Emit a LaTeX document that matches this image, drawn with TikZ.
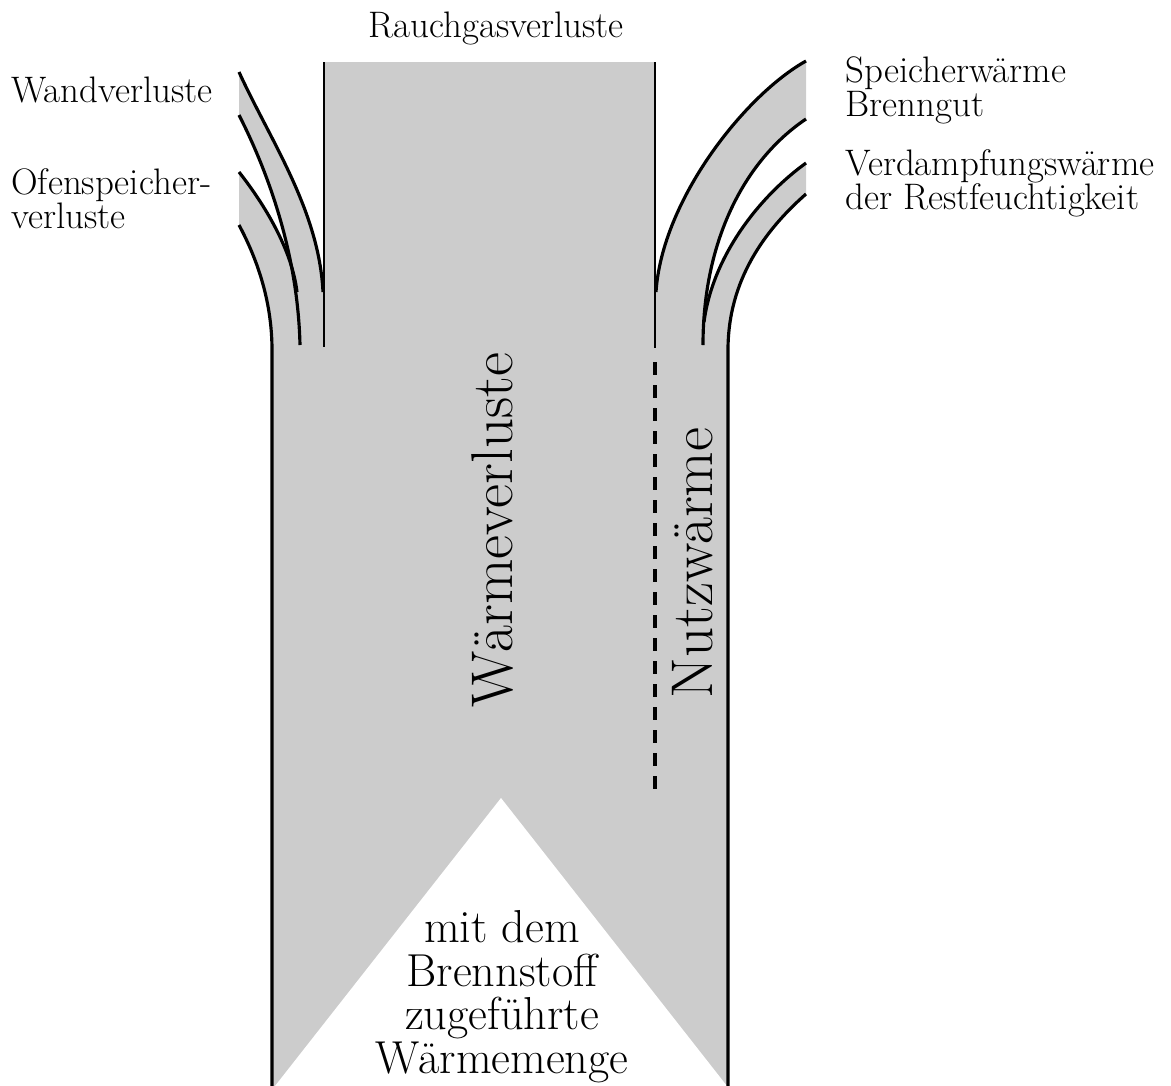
\documentclass[tikz,border=0pt]{standalone}
\definecolor{band}{gray}{0.80}
\newcommand\lblfont{\fontsize{21pt}{19pt}\selectfont\lineskiplimit=-20pt\relax}
\newcommand\midfont{\fontsize{26.3pt}{24.75pt}\selectfont\lineskiplimit=-20pt\relax}
\tikzset{
  edge/.style={line width=1.8pt, line cap=butt},
  chim/.style={line width=1.5pt},
  dashline/.style={line width=1.8pt, dash pattern=on 7.4pt off 5.7pt},
  lbl/.style={inner sep=0pt, font=\lblfont},
  big/.style={inner sep=0pt, font=\fontsize{33.5pt}{36pt}\selectfont},
  mid/.style={inner sep=0pt, font=\midfont}
}
\begin{document}
\begin{tikzpicture}[x=0.02cm,y=-0.02cm,line join=round]
\useasboundingbox (0,0) rectangle (1171,1086);
% gray fills
\fill[band] (272,340) rectangle (728,1086);
\fill[band] (324,62) rectangle (655,350);
\fill[band] (239,72) .. controls (270,140) and (319,210) .. (323,290) -- (324,350) -- (300,350) -- (300,345) .. controls (298,260) and (272,180) .. (239,115) -- cycle;
\fill[band] (239,172) .. controls (265,205) and (292,250) .. (297,292) -- (300,350) -- (272,350) .. controls (272,310) and (262,268) .. (239,225) -- cycle;
\fill[band] (806,61) .. controls (745,95) and (662,200) .. (656,290) -- (655,350) -- (703,350) -- (703,345) .. controls (703,240) and (745,160) .. (806,119) -- cycle;
\fill[band] (806,163) .. controls (755,200) and (712,260) .. (704,322) -- (703,350) -- (728,350) .. controls (728,280) and (765,230) .. (806,194) -- cycle;
% white triangle
\fill[white] (275,1086) -- (501,798) -- (727,1086) -- cycle;
% left lines
\draw[chim] (324,62) -- (324,347);
\draw[edge] (239,72) .. controls (270,140) and (319,210) .. (323,292);
\draw[edge] (239,115) .. controls (272,180) and (298,260) .. (300,345);
\draw[edge] (239,172) .. controls (265,205) and (292,250) .. (297,292);
\draw[edge] (239,225) .. controls (262,268) and (272,310) .. (272,350) -- (272,1086);
% right lines
\draw[chim] (655,62) -- (655,348);
\draw[edge] (806,61) .. controls (745,95) and (662,200) .. (656,292);
\draw[edge] (806,119) .. controls (745,160) and (703,240) .. (703,345);
\draw[edge] (806,163) .. controls (755,200) and (712,260) .. (704,322);
\draw[edge] (806,194) .. controls (765,230) and (728,280) .. (728,350) -- (728,1086);
% dashed divider
\draw[dashline] (655,362) -- (655,797);
% labels
\node[lbl, anchor=base] (rauch) at (496,37) {Rauchgasverluste};
\node[lbl, anchor=base west] (wand) at (11,102) {Wandverluste};
\node[lbl, anchor=base west, align=left] (ofen) at (11,228) {Ofenspeicher-\\verluste};
\node[lbl, anchor=base west, align=left] (speich) at (845,116) {Speicherw\"arme\\Brenngut};
\node[lbl, anchor=base west, align=left] (verd) at (845,209) {Verdampfungsw\"arme\\der Restfeuchtigkeit};
\node[big, rotate=90, anchor=base] (wv) at (512,530) {W\"armeverluste};
\node[big, rotate=90, anchor=base] (nw) at (712,563) {Nutzw\"arme};
\node[mid, align=center, anchor=base] (brenn) at (502,1073) {mit dem\\Brennstoff\\zugef\"uhrte\\W\"armemenge};
\end{tikzpicture}
\end{document}
